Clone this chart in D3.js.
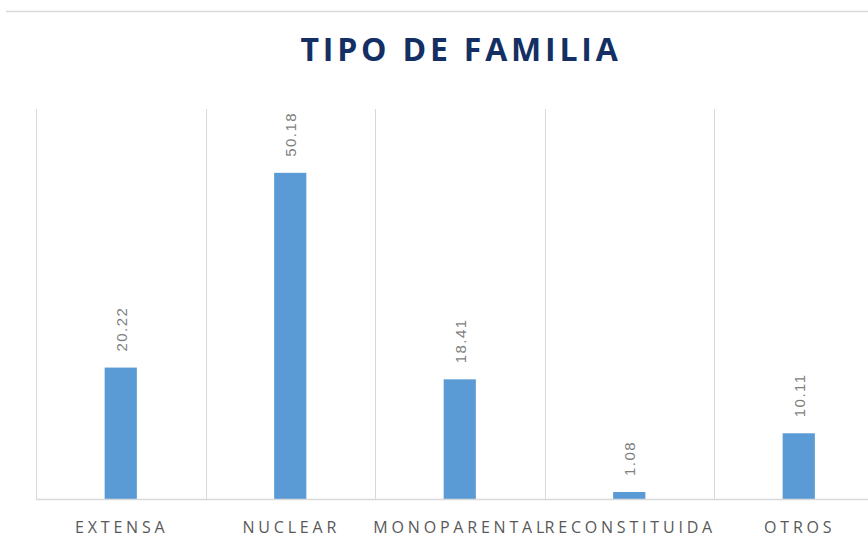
<!DOCTYPE html>
<html lang="es">
<head>
  <meta charset="UTF-8">
  <title>Tipo de familia</title>
  <script src="https://cdn.jsdelivr.net/npm/d3@7"></script>
  <style>
    body { margin: 0; background: #fff; }
  </style>
</head>
<body>
  <div id="grafica"></div>

  <script>
    // datos
    categorias = ['EXTENSA', 'NUCLEAR', 'MONOPARENTAL', 'RECONSTITUIDA', 'OTROS']
    valores = [20.22, 50.18, 18.41, 1.08, 10.11]
    titulo = 'TIPO DE FAMILIA'

    ancho = 868
    alto = 538

    svg = d3.select('#grafica')
      .append('svg')
      .attr('width', ancho)
      .attr('height', alto)
      .style('font-family', '"Open Sans", sans-serif')

    // linea superior
    svg.append('line')
      .attr('x1', 6).attr('x2', ancho)
      .attr('y1', 11.5).attr('y2', 11.5)
      .attr('stroke', '#d9d9d9')
      .attr('stroke-width', 1.5)

    svg.append('text')
      .attr('x', 461)
      .attr('y', 61)
      .attr('text-anchor', 'middle')
      .attr('font-size', 32)
      .attr('font-weight', 'bold')
      .attr('letter-spacing', 3.8)
      .attr('fill', '#132f63')
      .text(titulo)

    izq = 36
    paso = 169.5
    x = d3.scaleBand()
      .domain(categorias)
      .range([izq, izq + paso * categorias.length])
      .paddingInner(0.81)
      .paddingOuter(0.405)

    y = d3.scaleLinear()
      .domain([0, 60])
      .range([499, 109])

    // lineas verticales entre categorias
    cortes = d3.range(categorias.length + 1).map(i => izq + i * paso)
    svg.selectAll('.grid')
      .data(cortes)
      .enter()
      .append('line')
      .attr('class', 'grid')
      .attr('x1', d => Math.round(d) + 0.5)
      .attr('x2', d => Math.round(d) + 0.5)
      .attr('y1', y(60))
      .attr('y2', y(0))
      .attr('stroke', '#d9d9d9')

    svg.selectAll('rect')
      .data(valores)
      .enter()
      .append('rect')
      .attr('x', (d, i) => x(categorias[i]))
      .attr('y', d => y(d))
      .attr('width', x.bandwidth())
      .attr('height', d => y(0) - y(d))
      .attr('fill', '#5b9bd5')

    // eje x
    svg.append('line')
      .attr('x1', izq).attr('x2', ancho)
      .attr('y1', 499.5).attr('y2', 499.5)
      .attr('stroke', '#d9d9d9')
      .attr('stroke-width', 1.5)

    svg.selectAll('.cat')
      .data(categorias)
      .enter()
      .append('text')
      .attr('class', 'cat')
      .attr('x', d => x(d) + x.bandwidth() / 2 + 1)
      .attr('y', 533)
      .attr('text-anchor', 'middle')
      .attr('font-size', 16)
      .attr('letter-spacing', 3.8)
      .attr('fill', '#595959')
      .text(d => d)

    // etiquetas de valor
    svg.selectAll('.val')
      .data(valores)
      .enter()
      .append('text')
      .attr('class', 'val')
      .attr('transform', (d, i) => 'translate(' + (x(categorias[i]) + x.bandwidth() / 2 + 6) + ',' + (y(d) - 16) + ') rotate(-90)')
      .attr('font-family', '"Liberation Sans", Arial, sans-serif')
      .attr('font-size', 15)
      .attr('letter-spacing', 1.5)
      .attr('fill', '#7f7f7f')
      .text(d => d.toFixed(2))
  </script>
</body>
</html>
